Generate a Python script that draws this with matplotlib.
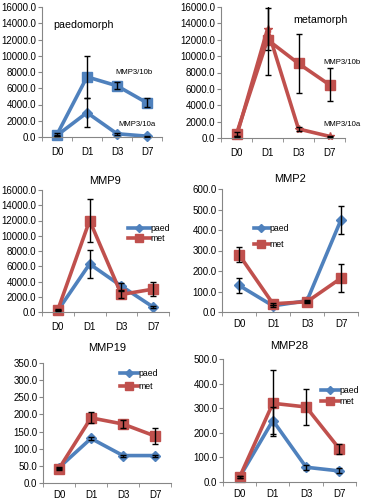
import matplotlib
matplotlib.use("Agg")
import matplotlib.pyplot as plt
import numpy as np

plt.rcParams['font.family'] = ['Liberation Sans', 'DejaVu Sans']

days = ["D0", "D1", "D3", "D7"]
BLUE = "#4F81BD"
RED = "#C0504D"

# panel 1 paedomorph
p_b = [300, 7400, 6300, 4200]
p_b_err = [150, 2600, 450, 550]
p_a = [200, 3000, 400, 100]
p_a_err = [100, 1800, 100, 50]
# panel 2 metamorph
m_b = [500, 12000, 9100, 6500]
m_b_err = [200, 4300, 3600, 2000]
m_a = [200, 13300, 1100, 200]
m_a_err = [100, 2600, 200, 50]
# MMP9
mmp9_paed = [200, 6300, 3400, 650]
mmp9_paed_err = [100, 1800, 450, 100]
mmp9_met = [300, 12000, 2300, 3000]
mmp9_met_err = [100, 2800, 500, 950]
# MMP2
mmp2_paed = [130, 30, 55, 450]
mmp2_paed_err = [38, 5, 5, 68]
mmp2_met = [280, 40, 50, 165]
mmp2_met_err = [38, 5, 5, 68]
# MMP19
mmp19_paed = [45, 130, 80, 80]
mmp19_paed_err = [3, 5, 3, 3]
mmp19_met = [42, 190, 172, 137]
mmp19_met_err = [3, 16, 13, 22]
# MMP28
mmp28_paed = [20, 250, 60, 45]
mmp28_paed_err = [5, 55, 10, 10]
mmp28_met = [20, 320, 305, 135]
mmp28_met_err = [5, 135, 75, 20]

W, H = 369, 500
fig = plt.figure(figsize=(W/100, H/100), dpi=100)

def make_ax(left, right, top, bottom, ymax, ystep, xpad=7):
    ax = fig.add_axes([left/W, 1-bottom/H, (right-left)/W, (bottom-top)/H])
    ax.set_xlim(-0.5, 3.5)
    ax.set_ylim(0, ymax)
    ticks = np.arange(0, ymax + ystep/2, ystep)
    ax.set_yticks(ticks)
    ax.set_yticklabels([f"{v:.1f}" for v in ticks])
    ax.set_xticks(range(4))
    ax.set_xticklabels(days)
    ax.set_xticks([-0.5, 0.5, 1.5, 2.5, 3.5], minor=True)
    ax.tick_params(axis='x', which='major', length=0, pad=xpad, labelsize=7)
    ax.tick_params(axis='x', which='minor', length=3, color='#868686', direction='out')
    ax.tick_params(axis='y', length=3, color='#868686', direction='out', labelsize=7, pad=1)
    for s in ['top', 'right']:
        ax.spines[s].set_visible(False)
    for s in ['left', 'bottom']:
        ax.spines[s].set_color('#868686')
        ax.spines[s].set_linewidth(0.8)
    ax.patch.set_alpha(0)
    return ax

def series(ax, vals, err, color, marker, ms, label=None):
    x = np.arange(4)
    ax.errorbar(x, vals, yerr=err, fmt='none', ecolor='black', elinewidth=1.0,
                capsize=2, capthick=1.0, zorder=3)
    ax.plot(x, vals, color=color, lw=2.6, marker=marker, ms=ms, mec=color, mfc=color,
            zorder=2, label=label, clip_on=False)

def legend(ax, x, y, spacing, hl):
    ax.legend(loc='upper left', bbox_to_anchor=(x/W, 1-(y-4)/H),
              bbox_transform=fig.transFigure, frameon=False, fontsize=6.3,
              handlelength=hl, handletextpad=0.05, labelspacing=spacing,
              borderpad=0, borderaxespad=0, markerscale=0.85)

# Panel 1
ax1 = make_ax(42, 162, 7, 137, 16000, 2000)
series(ax1, p_a, p_a_err, BLUE, 'D', 5)
series(ax1, p_b, p_b_err, BLUE, 's', 7)
ax1.text(0.09, 0.865, "paedomorph", transform=ax1.transAxes, fontsize=7.7, va='center')
ax1.text(1.93, 8000, "MMP3/10b", fontsize=5.6, va='center')
ax1.text(2.03, 1480, "MMP3/10a", fontsize=5.6, va='center')

# Panel 2
ax2 = make_ax(221, 345, 7, 138, 16000, 2000)
series(ax2, m_a, m_a_err, RED, '*', 6)
series(ax2, m_b, m_b_err, RED, 's', 7)
ax2.text(0.58, 0.9, "metamorph", transform=ax2.transAxes, fontsize=7.7, va='center')
ax2.text(2.79, 9280, "MMP3/10b", fontsize=5.6, va='center')
ax2.text(2.79, 1590, "MMP3/10a", fontsize=5.6, va='center')

# MMP9
ax3 = make_ax(42, 169, 190, 312, 16000, 2000)
series(ax3, mmp9_paed, mmp9_paed_err, BLUE, 'D', 5, 'paed')
series(ax3, mmp9_met, mmp9_met_err, RED, 's', 7, 'met')
ax3.set_title("MMP9", fontsize=8, pad=4.3)
legend(ax3, 128, 228, 0.1, 2.5)

# MMP2
ax4 = make_ax(222, 358, 189, 312, 600, 100, xpad=5)
series(ax4, mmp2_paed, mmp2_paed_err, BLUE, 'D', 5, 'paed')
series(ax4, mmp2_met, mmp2_met_err, RED, 's', 7, 'met')
ax4.set_title("MMP2", fontsize=8, pad=5)
legend(ax4, 254, 228, 0.75, 1.7)

# MMP19
ax5 = make_ax(43, 171, 363, 483, 350, 50, xpad=5)
series(ax5, mmp19_paed, mmp19_paed_err, BLUE, 'D', 5, 'paed')
series(ax5, mmp19_met, mmp19_met_err, RED, 's', 7, 'met')
ax5.set_title("MMP19", fontsize=8, pad=8.5)
legend(ax5, 120, 373, 0.5, 2.0)

# MMP28
ax6 = make_ax(223, 356, 359, 482, 500, 100, xpad=5)
series(ax6, mmp28_paed, mmp28_paed_err, BLUE, 'D', 5, 'paed')
series(ax6, mmp28_met, mmp28_met_err, RED, 's', 7, 'met')
ax6.set_title("MMP28", fontsize=8, pad=7)
legend(ax6, 321, 390, 0.2, 2.0)

fig.savefig("out.png", dpi=100)
